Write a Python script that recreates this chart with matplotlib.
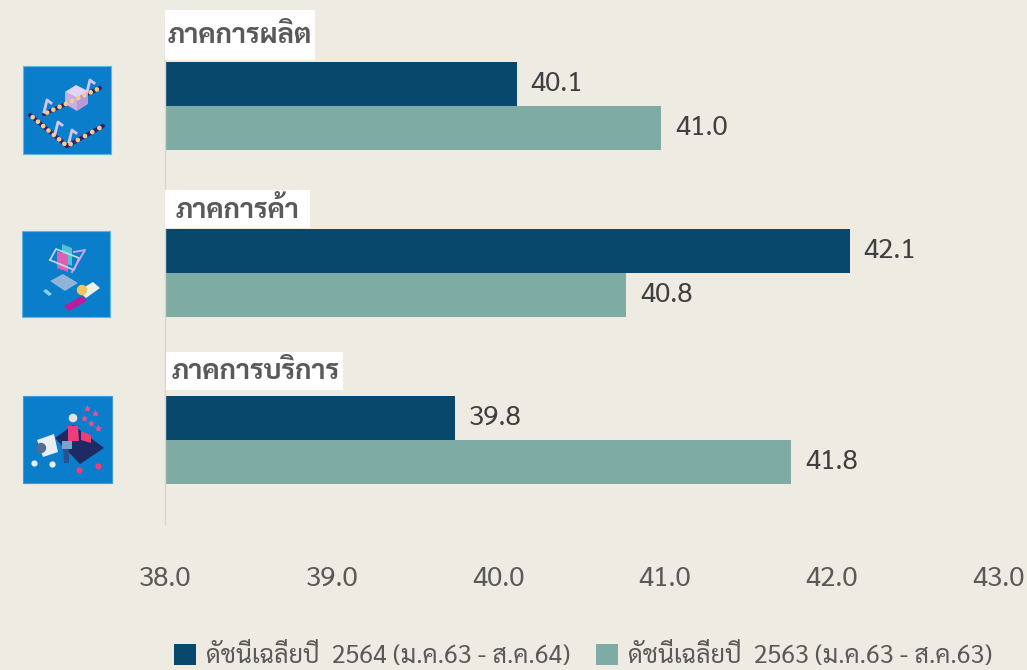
import matplotlib
matplotlib.use("Agg")
import matplotlib.pyplot as plt
from matplotlib import font_manager as fm
from matplotlib.patches import Patch, Polygon, Rectangle, Circle

# ข้อมูล
sectors = ["ภาคการผลิต", "ภาคการค้า", "ภาคการบริการ"]
avg_2564 = [40.11, 42.11, 39.74]
avg_2563 = [40.98, 40.77, 41.76]
labels_2564 = ["40.1", "42.1", "39.8"]
labels_2563 = ["41.0", "40.8", "41.8"]
ticks = [38, 39, 40, 41, 42, 43]
legend_names = ["ดัชนีเฉลี่ยปี  2564 (ม.ค.63 - ส.ค.64)", "ดัชนีเฉลี่ยปี  2563 (ม.ค.63 - ส.ค.63)"]

BG = '#eeebe2'
DARK = '#07486c'
TEAL = '#7eaca4'
GREY = '#595959'
BLUE = '#0a7dcb'

# เลือกฟอนต์ไทยที่มีในเครื่อง
installed = {f.name for f in fm.fontManager.ttflist}
thai_font = 'DejaVu Sans'
for name in ['Sarabun', 'Noto Sans Thai', 'Anuphan', 'Athiti']:
    if name in installed:
        thai_font = name
        break
plt.rcParams['font.family'] = [thai_font, 'DejaVu Sans']

W, H = 1027, 670
fig = plt.figure(figsize=(W/100, H/100), dpi=100, facecolor=BG)
ax = fig.add_axes([165/W, 1-523.5/H, 833/W, 501/H], facecolor='none')

bar_h = 0.264
y = range(len(sectors))
bars1 = ax.barh([i-bar_h/2 for i in y], avg_2564, height=bar_h, color=DARK)
bars2 = ax.barh([i+bar_h/2 for i in y], avg_2563, height=bar_h, color=TEAL)
ax.set_xlim(38, 43)
ax.set_ylim(2.5, -0.5)
ax.set_xticks(ticks)
ax.set_xticklabels([f"{t:.1f}" for t in ticks], fontsize=20, color=GREY, va='center')
ax.set_yticks([])
ax.tick_params(axis='x', length=0, pad=40)
for s in ['top', 'right', 'bottom']:
    ax.spines[s].set_visible(False)
ax.spines['left'].set_color('#d6d6d0')
ax.spines['left'].set_linewidth(1)

for b, t in zip(list(bars1)+list(bars2), labels_2564+labels_2563):
    ax.annotate(t, (b.get_width(), b.get_y()+b.get_height()/2), xytext=(10, 0),
                textcoords='offset points', va='center', ha='left', fontsize=20, color='#3f3f3f')

# ชั้นวาดแบบพิกเซล: ป้ายชื่อภาคและไอคอน
ov = fig.add_axes([0, 0, 1, 1], facecolor='none')
ov.set_xlim(0, W)
ov.set_ylim(H, 0)
ov.axis('off')

boxes = [(165, 10, 150, 50, 168, 36), (165, 190, 145, 38, 176, 211), (166, 352, 177, 38, 172, 372)]
for name, (bx, by, bw, bh, tx, ty) in zip(sectors, boxes):
    ov.add_patch(Rectangle((bx, by), bw, bh, facecolor='white', edgecolor='none'))
    ov.text(tx, ty, name, fontsize=19.8, color=GREY, va='center', ha='left', fontweight='bold')


def poly(pts, color, z=3):
    ov.add_patch(Polygon(pts, closed=True, facecolor=color, edgecolor='none', zorder=z))


def belt(p0, p1, n):
    ov.plot([p0[0], p1[0]], [p0[1], p1[1]], color='#3a1f66', lw=3, zorder=3, solid_capstyle='round')
    for k in range(n):
        f = (k+0.5)/n
        ov.add_patch(Circle((p0[0]+(p1[0]-p0[0])*f, p0[1]+(p1[1]-p0[1])*f), 1.6, color='#f4cf8a', zorder=4))


# ไอคอนโรงงาน
ov.add_patch(Rectangle((23, 66), 88, 88, facecolor=BLUE, edgecolor='#5db4e6', lw=0.8))
belt((30, 115), (67, 146), 7)
belt((67, 146), (103, 126), 5)
belt((44, 114), (100, 88), 9)
poly([(65, 92), (76, 85), (88, 91), (77, 98)], '#e3d4f4')
poly([(65, 92), (77, 98), (77, 111), (65, 104)], '#c7aee6')
poly([(77, 98), (88, 91), (88, 104), (77, 111)], '#b79ada')
for px, py in [(47, 100), (58, 122), (72, 130), (90, 80)]:
    ov.plot([px-3, px, px+4], [py+12, py, py+3], color='#d9c6ee', lw=2, zorder=5)

# ไอคอนรถเข็น
ov.add_patch(Rectangle((22, 231), 88, 86, facecolor=BLUE, edgecolor='#5db4e6', lw=0.8))
poly([(62, 244), (72, 248), (72, 266), (62, 262)], '#4fc3d0')
poly([(57, 251), (68, 255), (68, 272), (57, 268)], '#e05fb5')
ov.plot([50, 74, 79, 56, 50], [260, 270, 258, 249, 260], color='#c9d8f0', lw=1.2, zorder=5)
ov.plot([74, 85, 72], [252, 250, 272], color='#c9a6ea', lw=1.4, zorder=5)
poly([(50, 281), (63, 274), (78, 283), (65, 291)], '#8fb4d8')
poly([(78, 291), (93, 282), (100, 288), (86, 298)], '#f2efe6')
ov.add_patch(Circle((82, 290), 4.5, color='#eec662', zorder=5))
poly([(64, 306), (82, 296), (87, 301), (69, 311)], '#bb1d9a')
poly([(43, 291), (46, 289), (52, 294), (49, 296)], '#8ad4ea')

# ไอคอนโฆษณา
ov.add_patch(Rectangle((23, 396), 89, 87, facecolor=BLUE, edgecolor='#3f9cd8', lw=0.8))
poly([(55, 438), (73, 425), (104, 448), (80, 464)], '#1d2a63')
poly([(37, 440), (54, 434), (58, 452), (43, 457)], '#e8eef4')
ov.add_patch(Circle((41, 448), 4.5, color='#4d6f95', zorder=4))
poly([(68, 426), (78, 426), (79, 441), (68, 441)], '#ef3d78')
ov.add_patch(Circle((73, 418), 3.6, color='#e8e2dc', zorder=4))
poly([(63, 447), (69, 447), (69, 463), (64, 463)], '#2c4f8f')
poly([(62, 441), (72, 441), (72, 449), (62, 449)], '#7fa0c8')
poly([(81, 431), (91, 435), (91, 443), (81, 440)], '#ef3d78')
for px, py in [(87, 408), (95, 413), (84, 418), (91, 423), (98, 428)]:
    ov.plot(px, py, marker='*', ms=6, color='#ee4f8f', mec='none', zorder=5)
for px, py, c in [(34, 463, '#e8eef4'), (52, 464, '#e8eef4'), (79, 470, '#ef3d78'), (98, 466, '#ef3d78')]:
    ov.plot(px, py, marker='o', ms=4.5, color=c, mec='none', zorder=5)

# คำอธิบาย
handles = [Patch(facecolor=DARK, edgecolor='none'), Patch(facecolor=TEAL, edgecolor='none')]
fig.legend(handles, legend_names, ncol=2, frameon=False, loc='lower left',
           bbox_to_anchor=(174/W, 1/H), borderaxespad=0, borderpad=0, fontsize=18,
           labelcolor=GREY, handlelength=0.88, handleheight=0.96, handletextpad=0.42, columnspacing=1.0)

fig.savefig("out.png", dpi=100, facecolor=BG)
